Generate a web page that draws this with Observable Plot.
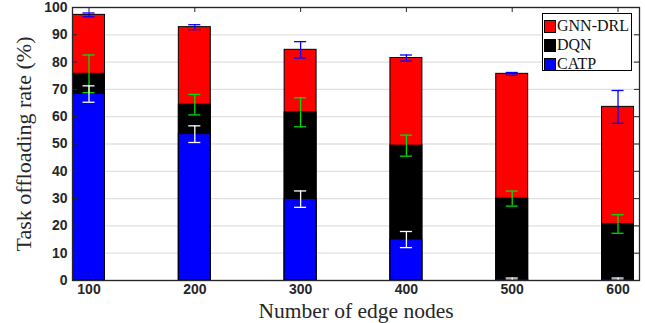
<!DOCTYPE html>
<html>
<head>
<meta charset="utf-8">
<script src="https://cdn.jsdelivr.net/npm/d3@7"></script>
<script src="https://cdn.jsdelivr.net/npm/@observablehq/plot@0.6"></script>
<style>
  html, body { margin: 0; padding: 0; background: #fff; }
  #wrap { position: relative; width: 645px; height: 323px; }
  #legend { position: absolute; left: 542px; top: 13px; width: 88px; height: 56px;
    border: 1px solid #000; background: #fff; font-family: "Liberation Serif", serif; font-size: 16px; color: #111; }
  #legend .row { position: absolute; left: 1px; height: 20px; display: flex; align-items: center; }
  #legend .sw { width: 12px; height: 13px; border: 1px solid #000; margin-right: 1px; box-sizing: border-box; }
</style>
</head>
<body>
<div id="wrap"><div id="legend"></div></div>
<script>
const nodes = [100, 200, 300, 400, 500, 600];
const gnnDrl = [97.3, 92.8, 84.5, 81.5, 75.7, 63.6];
const gnnDrlErr = [0.7, 0.9, 3.0, 1.1, 0.5, 6.0];
const dqn = [75.7, 64.4, 61.6, 49.4, 30.0, 20.7];
const dqnErr = [6.9, 3.75, 5.3, 3.85, 2.75, 3.4];
const catp = [68.3, 53.6, 29.8, 15.0, 0.5, 0.5];
const catpErr = [3.0, 3.05, 3.0, 2.95, 0.4, 0.4];
const yTicks = [0, 10, 20, 30, 40, 50, 60, 70, 80, 90, 100];
const seriesNames = ["GNN-DRL", "DQN", "CATP"];
const seriesColors = ["#ff0000", "#000000", "#0000ff"];
const errColors = ["#0000ff", "#00e000", "#ffffff"];
const xLabel = "Number of edge nodes";
const yLabel = "Task offloading rate (%)";

const halfBar = 15.1;
const halfCap = 5.7;
const seriesVals = [gnnDrl, dqn, catp];
const seriesErrs = [gnnDrlErr, dqnErr, catpErr];
const serif = "Liberation Serif, Times New Roman, serif";
const sans = "Liberation Sans, Arial, sans-serif";

const marks = [
  Plot.gridY(yTicks, {stroke: "#e0e0e0", strokeOpacity: 1, strokeWidth: 1.3})
];
seriesVals.forEach((vals, s) => {
  const rows = nodes.map((n, i) => ({n, v: vals[i]}));
  marks.push(Plot.rectY(rows, {x1: d => d.n - halfBar, x2: d => d.n + halfBar, y1: 0, y2: "v",
    fill: seriesColors[s], stroke: "#000", strokeWidth: 1}));
});
seriesVals.forEach((vals, s) => {
  const rows = nodes.map((n, i) => ({n, lo: vals[i] - seriesErrs[s][i], hi: vals[i] + seriesErrs[s][i]}));
  marks.push(Plot.ruleX(rows, {x: "n", y1: "lo", y2: "hi", stroke: errColors[s], strokeWidth: 1.3}));
  marks.push(Plot.ruleY(rows, {y: "lo", x1: d => d.n - halfCap, x2: d => d.n + halfCap, stroke: errColors[s], strokeWidth: 1.3}));
  marks.push(Plot.ruleY(rows, {y: "hi", x1: d => d.n - halfCap, x2: d => d.n + halfCap, stroke: errColors[s], strokeWidth: 1.3}));
});
marks.push(
  Plot.axisY(yTicks, {anchor: "left", tickSize: 0, tickPadding: 5, fontWeight: "bold", fontSize: 14,
    fontFamily: sans, fill: "#262626", label: null}),
  Plot.axisX(nodes, {anchor: "bottom", tickSize: 0, tickPadding: 4, fontWeight: "bold", fontSize: 14,
    fontFamily: sans, fill: "#262626", label: null, tickFormat: d => String(d)}),
  Plot.tickY(yTicks, {y: d => d, stroke: "#262626", insetRight: 567 - 5}),
  Plot.tickY(yTicks, {y: d => d, stroke: "#262626", insetLeft: 567 - 5}),
  Plot.tickX(nodes, {x: d => d, stroke: "#262626", insetBottom: 273 - 5}),
  Plot.text([xLabel], {frameAnchor: "bottom", dy: 31, lineAnchor: "middle", textAnchor: "middle", text: d => d,
    fontSize: 21.5, fontFamily: serif, fill: "#262626"}),
  Plot.text([yLabel], {frameAnchor: "left", dx: -49, rotate: -90, lineAnchor: "middle", textAnchor: "middle", text: d => d,
    fontSize: 22, fontFamily: serif, fill: "#262626"}),
  Plot.frame({stroke: "#262626", strokeWidth: 1.3})
);

const chart = Plot.plot({
  width: 645,
  height: 323,
  marginLeft: 72,
  marginRight: 6,
  marginTop: 7,
  marginBottom: 43,
  x: {type: "linear", domain: [84.4, 620.3], axis: null},
  y: {domain: [0, 100], axis: null},
  style: {background: "#fff", overflow: "visible"},
  marks
});
document.getElementById("wrap").prepend(chart);

const legend = document.getElementById("legend");
seriesNames.forEach((name, i) => {
  const row = document.createElement("div");
  row.className = "row";
  row.style.top = (2 + i * 19) + "px";
  const sw = document.createElement("div");
  sw.className = "sw";
  sw.style.background = seriesColors[i];
  const t = document.createElement("span");
  t.textContent = name;
  row.append(sw, t);
  legend.append(row);
});
</script>
</body>
</html>
